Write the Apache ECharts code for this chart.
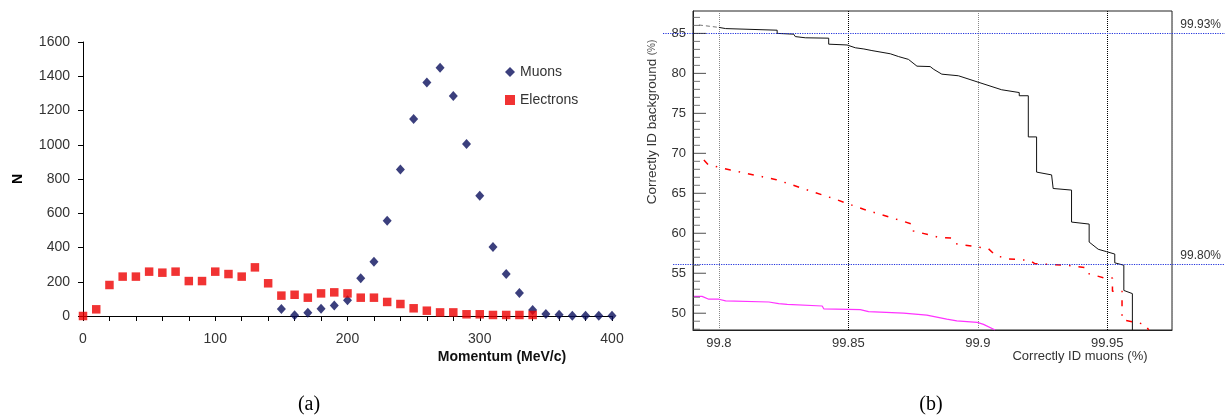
<!DOCTYPE html>
<html>
<head>
<meta charset="utf-8">
<title>Muons / Electrons</title>
<script src="https://cdn.jsdelivr.net/npm/echarts@6.0.0/dist/echarts.min.js"></script>
<style>
    html, body { margin: 0; padding: 0; background: #fff; }
    #main { width: 1225px; height: 419px; }
</style>
</head>
<body>
<div id="main"></div>
<script>
// (a) momentum spectrum
var muonMomentum = [150, 160, 170, 180, 190, 200, 210, 220, 230, 240, 250, 260, 270,
    280, 290, 300, 310, 320, 330, 340, 350, 360, 370, 380, 390, 400];
var muonCounts = [41, 4, 19, 43, 62, 92, 220, 317, 556, 856, 1150, 1364, 1450,
    1284, 1004, 702, 403, 245, 134, 35, 12, 8, 2, 2, 2, 2];
var electronMomentum = [0, 10, 20, 30, 40, 50, 60, 70, 80, 90, 100, 110, 120, 130, 140,
    150, 160, 170, 180, 190, 200, 210, 220, 230, 240, 250, 260, 270, 280, 290, 300, 310, 320, 330, 340];
var electronCounts = [0, 39, 181, 230, 230, 259, 253, 259, 204, 204, 259, 245, 230, 284, 191,
    119, 124, 107, 132, 138, 132, 107, 107, 82, 70, 45, 31, 21, 21, 10, 10, 6, 6, 6, 6];

// (b) correctly ID background vs correctly ID muons
var yMajorB = [50, 55, 60, 65, 70, 75, 80, 85];
var yMinorB = [48, 49, 51, 52, 53, 54, 56, 57, 58, 59, 61, 62, 63, 64, 66, 67, 68, 69,
    71, 72, 73, 74, 76, 77, 78, 79, 81, 82, 83, 84, 86, 87];

var blackStartX = [99.7923, 99.8];
var blackStartY = [86.05, 85.75];
var blackX = [99.8, 99.8026, 99.8225, 99.8225, 99.8289, 99.8295, 99.8334, 99.8424, 99.8424,
    99.8495, 99.8527, 99.856, 99.8591, 99.8662, 99.8694, 99.8732, 99.8765, 99.8816, 99.883,
    99.8861, 99.8925, 99.9001, 99.9092, 99.9098, 99.916, 99.916, 99.9195, 99.9195, 99.9227,
    99.9227, 99.9285, 99.9291, 99.9291, 99.9362, 99.9362, 99.943, 99.943, 99.9465, 99.9497,
    99.9529, 99.9529, 99.9564, 99.9564, 99.9597, 99.9597];
var blackY = [85.75, 85.6, 85.4, 85.0, 84.9, 84.6, 84.45, 84.4, 83.65,
    83.55, 83.2, 83.05, 82.85, 82.45, 82.1, 81.75, 80.9, 80.85, 80.5,
    79.9, 79.7, 78.9, 77.95, 77.7, 77.6, 77.2, 77.2, 72.05, 72.05,
    67.65, 67.3, 67.1, 65.6, 65.4, 61.4, 61.15, 58.9, 58.0, 57.7,
    57.4, 56.3, 56.0, 52.85, 52.45, 47.9];

var redX = [99.7942, 99.7958, 99.8045, 99.8222, 99.8334, 99.8446, 99.8559, 99.8671, 99.8746,
    99.875, 99.8848, 99.89, 99.8915, 99.9015, 99.904, 99.907, 99.9118, 99.92, 99.922, 99.9345,
    99.9414, 99.9422, 99.949, 99.952, 99.952, 99.9557, 99.9557, 99.9646, 99.966];
var redY = [69.15, 68.6, 67.9, 66.7, 65.5, 64.3, 63.0, 61.9, 61.15,
    60.3, 59.5, 59.4, 58.7, 58.2, 58.1, 57.2, 56.8, 56.6, 56.2, 56.0,
    55.7, 55.0, 54.4, 54.4, 52.75, 52.75, 49.2, 48.6, 47.9];

var magentaX = [99.7904, 99.7935, 99.7961, 99.8, 99.8026, 99.8193, 99.8231, 99.8264, 99.8399,
    99.8405, 99.8546, 99.8578, 99.8713, 99.8803, 99.888, 99.8919, 99.8998, 99.9022, 99.9067];
var magentaY = [52.1, 52.1, 51.75, 51.75, 51.55, 51.4, 51.2, 51.1, 50.9,
    50.55, 50.45, 50.2, 50.0, 49.75, 49.25, 49.05, 48.85, 48.6, 47.9];

// blue cut lines
var cutLevels = [85.0, 56.1];
var cutLabels = ['99.93%', '99.80%'];
var cutStart = [0, 0.018];

function zip(xs, ys) {
    var out = [];
    for (var i = 0; i < xs.length; i++) {
        out.push([xs[i], ys[i]]);
    }
    return out;
}

var cutLines = [];
for (var i = 0; i < cutLevels.length; i++) {
    cutLines.push([
        {coord: [cutStart[i], cutLevels[i]]},
        {coord: [1, cutLevels[i]], label: {formatter: cutLabels[i]}}
    ]);
}

var sans = 'Liberation Sans, Arial, sans-serif';
var xMinB = 99.79, xMaxB = 99.975;
var yMinB = 47.9, yMaxB = 87.8;

// inward y ticks of (b) as thin rect symbols sitting on the left edge
function tickSeries(values, len, color) {
    return {
        name: 'ticks',
        type: 'scatter',
        xAxisIndex: 1,
        yAxisIndex: 1,
        silent: true,
        clip: false,
        z: 10,
        symbol: 'rect',
        symbolSize: [len, 1],
        symbolOffset: [len / 2, 0],
        itemStyle: {color: color},
        data: values.map(function (v) { return [xMinB, v]; })
    };
}

var chart = echarts.init(document.getElementById('main'));
var option = {
    animation: false,
    backgroundColor: '#fff',
    textStyle: {fontFamily: sans},
    grid: [
        {left: 83, right: 613, top: 42, bottom: 103},
        {left: 693, right: 53, top: 11, bottom: 89, show: true, backgroundColor: 'transparent', borderColor: '#222', borderWidth: 1},
        {left: 663, right: 0, top: 11, bottom: 89}
    ],
    legend: {
        left: 500,
        top: 60,
        orient: 'vertical',
        itemWidth: 10,
        itemHeight: 10,
        itemGap: 14,
        textStyle: {fontSize: 14, color: '#333', fontFamily: sans},
        data: [
            {name: 'Muons', icon: 'diamond'},
            {name: 'Electrons', icon: 'rect'}
        ]
    },
    xAxis: [
        {
            gridIndex: 0,
            type: 'value',
            min: 0,
            max: 400,
            interval: 100,
            axisLine: {lineStyle: {color: '#000'}},
            axisTick: {length: 5, lineStyle: {color: '#000'}},
            minorTick: {show: true, splitNumber: 5, length: 5, lineStyle: {color: '#000'}},
            splitLine: {show: false},
            axisLabel: {color: '#333', fontSize: 14, margin: 16}
        },
        {
            gridIndex: 1,
            type: 'value',
            min: xMinB,
            max: xMaxB,
            splitNumber: 4,
            axisLine: {lineStyle: {color: '#222'}},
            axisTick: {show: false},
            splitLine: {show: true, lineStyle: {type: 'dotted', color: ['#000', '#888']}},
            axisLabel: {color: '#333', fontSize: 13, margin: 7, showMinLabel: false, showMaxLabel: false}
        },
        {gridIndex: 2, type: 'value', min: 0, max: 1, show: false}
    ],
    yAxis: [
        {
            gridIndex: 0,
            type: 'value',
            min: 0,
            max: 1600,
            interval: 200,
            axisLine: {show: true, lineStyle: {color: '#000'}},
            axisTick: {show: true, length: 5, lineStyle: {color: '#000'}},
            splitLine: {show: false},
            axisLabel: {color: '#333', fontSize: 14, margin: 13, formatter: function (v) { return String(v); }}
        },
        {
            gridIndex: 1,
            type: 'value',
            min: yMinB,
            max: yMaxB,
            splitNumber: 8,
            axisLine: {show: true, lineStyle: {color: '#222'}},
            axisTick: {show: false},
            splitLine: {show: false},
            axisLabel: {color: '#333', fontSize: 13, margin: 7, showMinLabel: false, showMaxLabel: false}
        },
        {gridIndex: 2, type: 'value', min: yMinB, max: yMaxB, show: false}
    ],
    graphic: [
        {type: 'text', x: 18, y: 179, rotation: Math.PI / 2,
            style: {text: 'N', font: 'bold 14px ' + sans, fill: '#000', align: 'center', verticalAlign: 'middle'}},
        {type: 'text', x: 502, y: 357,
            style: {text: 'Momentum (MeV/c)', font: 'bold 14px ' + sans, fill: '#111', align: 'center', verticalAlign: 'middle'}},
        {type: 'text', x: 652, y: 122, rotation: Math.PI / 2,
            style: {
                text: '{a|Correctly ID background} {b|(%)}',
                align: 'center', verticalAlign: 'middle',
                rich: {
                    a: {fontSize: 13.5, fontFamily: sans, fill: '#333'},
                    b: {fontSize: 10, fontFamily: sans, fill: '#555'}
                }
            }},
        {type: 'text', x: 1080, y: 356,
            style: {text: 'Correctly ID muons (%)', font: '13px ' + sans, fill: '#333', align: 'center', verticalAlign: 'middle'}},
        {type: 'text', x: 309, y: 405,
            style: {text: '(a)', font: '20px Liberation Serif, Times New Roman, serif', fill: '#000', align: 'center', verticalAlign: 'middle'}},
        {type: 'text', x: 931, y: 405,
            style: {text: '(b)', font: '20px Liberation Serif, Times New Roman, serif', fill: '#000', align: 'center', verticalAlign: 'middle'}}
    ],
    series: [
        {
            name: 'Muons',
            type: 'scatter',
            xAxisIndex: 0,
            yAxisIndex: 0,
            symbol: 'diamond',
            symbolSize: [9, 10],
            itemStyle: {color: '#0a0f5c'},
            data: zip(muonMomentum, muonCounts)
        },
        {
            name: 'Electrons',
            type: 'scatter',
            xAxisIndex: 0,
            yAxisIndex: 0,
            symbol: 'rect',
            symbolSize: 8.5,
            itemStyle: {color: '#ee0000'},
            data: zip(electronMomentum, electronCounts)
        },
        {
            name: 'cuts',
            type: 'line',
            xAxisIndex: 2,
            yAxisIndex: 2,
            data: [],
            markLine: {
                silent: true,
                symbol: ['none', 'none'],
                lineStyle: {color: '#2233dd', type: 'dotted', width: 1.2},
                label: {position: 'insideEndTop', distance: [4, 3], color: '#333', fontSize: 12, fontFamily: sans},
                data: cutLines
            }
        },
        tickSeries(yMajorB, 13, '#222'),
        tickSeries(yMinorB, 7, '#555'),
        {
            name: 'black start',
            type: 'line',
            xAxisIndex: 1,
            yAxisIndex: 1,
            symbol: 'none',
            lineStyle: {color: '#777', width: 1, type: [4, 3]},
            data: zip(blackStartX, blackStartY)
        },
        {
            name: 'black',
            type: 'line',
            xAxisIndex: 1,
            yAxisIndex: 1,
            symbol: 'none',
            lineStyle: {color: '#111', width: 1},
            data: zip(blackX, blackY)
        },
        {
            name: 'red',
            type: 'line',
            xAxisIndex: 1,
            yAxisIndex: 1,
            symbol: 'none',
            lineStyle: {color: '#ff0000', width: 1.5, type: [6, 8, 1.5, 8]},
            data: zip(redX, redY)
        },
        {
            name: 'magenta',
            type: 'line',
            xAxisIndex: 1,
            yAxisIndex: 1,
            symbol: 'none',
            lineStyle: {color: '#ff33ff', width: 1.2},
            data: zip(magentaX, magentaY)
        }
    ]
};
chart.setOption(option);
</script>
</body>
</html>
